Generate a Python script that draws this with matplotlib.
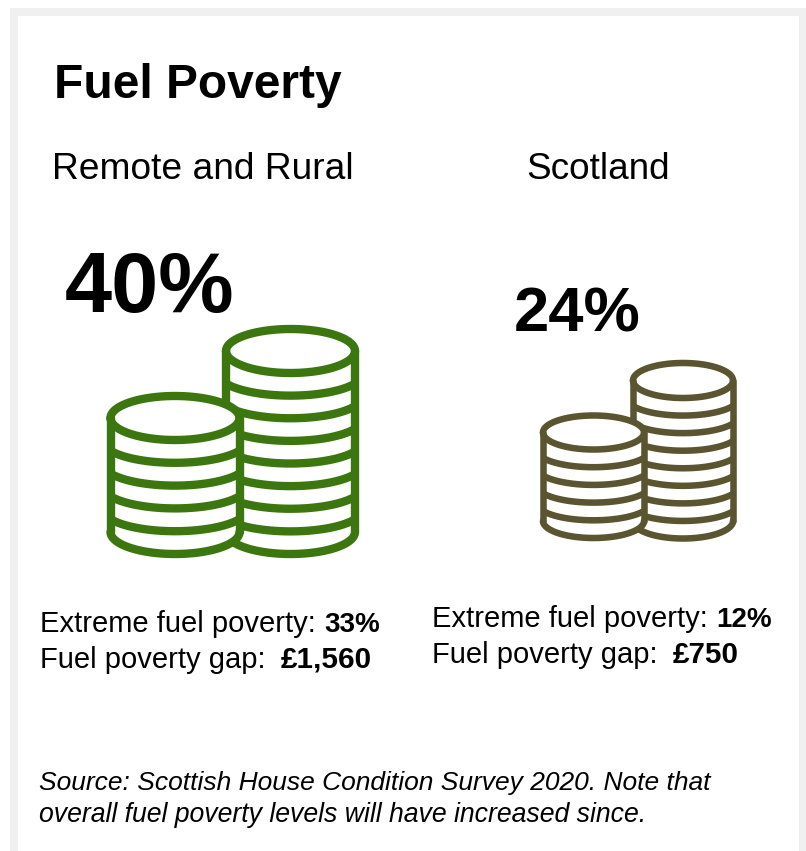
"""
Fuel poverty infographic: remote and rural areas against all of Scotland.
"""
import numpy as np
import matplotlib.pyplot as plt
from matplotlib.patches import Polygon, Rectangle

plt.rcParams['font.family'] = ['Liberation Sans', 'DejaVu Sans']

# Data
areas = ['Remote and Rural', 'Scotland']
fuel_poverty_pct = [40, 24]
extreme_poverty_pct = [33, 12]
poverty_gap_gbp = [1560, 750]
short_stack_coins = [5, 5]
tall_stack_coins = [8, 8]

GREEN = '#3c760f'
OLIVE = '#5a5530'
BORDER = '#f0f0f0'

fig = plt.figure(figsize=(8.06, 8.51), dpi=100, facecolor='white')
ax = fig.add_axes([0, 0, 1, 1])
ax.set_xlim(0, 806)
ax.set_ylim(851, 0)
ax.axis('off')

_z = [2]


def zorder_next():
    _z[0] += 1
    return _z[0]


def draw_stack(cx, rx, ry, top, bottom, coins, color, lw):
    """One pile of coins, top face first and lower edges stepping down."""
    t = np.linspace(0, np.pi, 80)
    arc_x = cx + rx * np.cos(t)
    arc_y = ry * np.sin(t)

    # white body so a pile hides whatever sits behind it
    body_x = np.concatenate([arc_x, arc_x[::-1]])
    body_y = np.concatenate([bottom + arc_y, top - arc_y[::-1]])
    ax.add_patch(Polygon(np.column_stack([body_x, body_y]), closed=True,
                         facecolor='white', edgecolor='none', zorder=zorder_next()))
    z = zorder_next()

    # top face and the base are whole ellipse halves
    ax.plot(arc_x, top - arc_y, color=color, lw=lw, zorder=z, solid_capstyle='round')
    ax.plot(arc_x, top + arc_y, color=color, lw=lw, zorder=z, solid_capstyle='round')
    ax.plot(arc_x, bottom + arc_y, color=color, lw=lw, zorder=z, solid_capstyle='round')

    # coin edges between them run into the sides at a shallower angle
    wide = 1.12
    edge_t = np.linspace(np.arccos(1 / wide), np.pi - np.arccos(1 / wide), 80)
    edge_x = cx + rx * wide * np.cos(edge_t)
    edge_y = ry * np.sin(edge_t)
    for y in np.linspace(top, bottom, coins + 1)[1:-1]:
        ax.plot(edge_x, y + edge_y, color=color, lw=lw, zorder=z, solid_capstyle='butt')

    ax.plot([cx - rx, cx - rx], [top, bottom], color=color, lw=lw, zorder=z, solid_capstyle='round')
    ax.plot([cx + rx, cx + rx], [top, bottom], color=color, lw=lw, zorder=z, solid_capstyle='round')


# Panel border, open along the bottom edge
ax.add_patch(Rectangle((10, 8), 796, 843, facecolor=BORDER, edgecolor='none', zorder=0))
ax.add_patch(Rectangle((18, 16), 781, 835, facecolor='white', edgecolor='none', zorder=1))

# Coin piles, tall one behind
draw_stack(290.5, 64.5, 22, 351, 532, tall_stack_coins[0], GREEN, 6.0)
draw_stack(175, 64.5, 22, 418, 532, short_stack_coins[0], GREEN, 6.0)
draw_stack(683, 50, 17.5, 380.5, 521, tall_stack_coins[1], OLIVE, 4.7)
draw_stack(593.5, 50.5, 17, 432.5, 521, short_stack_coins[1], OLIVE, 4.7)

TXT = dict(va='baseline', color='black', zorder=50)

ax.text(54, 98.5, 'Fuel Poverty', fontsize=34.5, fontweight='bold', **TXT)

ax.text(52, 179, areas[0], fontsize=26.7, **TXT)
ax.text(526, 179, areas[1], fontsize=26.6, **TXT)

ax.text(65, 312, f'{fuel_poverty_pct[0]}%', fontsize=61, fontweight='bold', **TXT)
ax.text(514, 332, f'{fuel_poverty_pct[1]}%', fontsize=45.5, fontweight='bold', **TXT)

# Left hand figures
ax.text(40, 632, 'Extreme fuel poverty:', fontsize=21, **TXT)
ax.text(324, 632, f'{extreme_poverty_pct[0]}%', fontsize=20, fontweight='bold', **TXT)
ax.text(40, 668, 'Fuel poverty gap:', fontsize=21, **TXT)
ax.text(281, 668, f'£{poverty_gap_gbp[0]:,}', fontsize=21.3, fontweight='bold', **TXT)

# Right hand figures
ax.text(432, 627, 'Extreme fuel poverty:', fontsize=21, **TXT)
ax.text(716, 627, f'{extreme_poverty_pct[1]}%', fontsize=20, fontweight='bold', **TXT)
ax.text(432, 663, 'Fuel poverty gap:', fontsize=21, **TXT)
ax.text(673, 663, f'£{poverty_gap_gbp[1]:,}', fontsize=21.3, fontweight='bold', **TXT)

ax.text(39, 790, 'Source: Scottish House Condition Survey 2020. Note that',
        fontsize=19, style='italic', **TXT)
ax.text(39, 822, 'overall fuel poverty levels will have increased since.',
        fontsize=19.15, style='italic', **TXT)

fig.savefig('out.png', dpi=100, facecolor='white')
